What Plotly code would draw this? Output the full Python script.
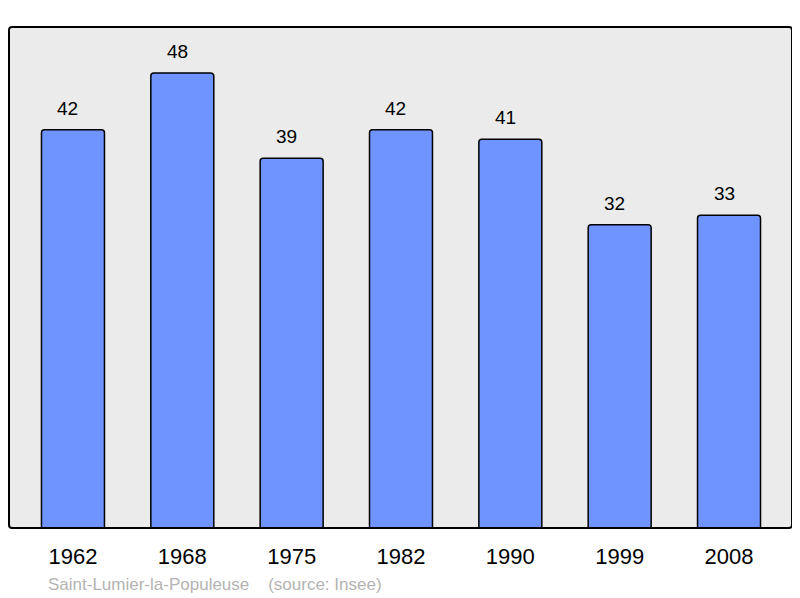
import plotly.graph_objects as go

years = ["1962", "1968", "1975", "1982", "1990", "1999", "2008"]
population = [42, 48, 39, 42, 41, 32, 33]
footer_text = "Saint-Lumier-la-Populeuse &nbsp;&nbsp; (source: Insee)"

FONT = "Liberation Sans, Arial, sans-serif"
# page body has an 8px margin: figure sits at (8, 8)
OFF = 8
W, H = 800 - OFF, 598 - OFF
ml, mr, mt, mb = 9 - OFF, 8, 27 - OFF, 70
pw, ph = W - ml - mr, H - mt - mb

idx = list(range(len(years)))

fig = go.Figure()
fig.add_trace(go.Bar(
    x=idx, y=population,
    width=0.576,
    marker=dict(color="#7094ff", line=dict(color="#000000", width=1.5), cornerradius=3),
    hoverinfo="skip",
))

annotations = [
    dict(x=i, y=v, xref="x", yref="y", text=str(v), showarrow=False,
         yanchor="bottom", yshift=9, xshift=-5, font=dict(size=19, color="#000000", family=FONT))
    for i, v in zip(idx, population)
]
annotations.append(dict(x=(46 - 9) / pw, y=-(584 - 528) / ph, xref="paper", yref="paper",
                        text=footer_text, showarrow=False, xanchor="left", yanchor="middle",
                        font=dict(size=17, color="#b3b3b3", family=FONT)))

fig.update_layout(
    width=W, height=H,
    margin=dict(l=ml, r=mr, t=mt, b=mb),
    paper_bgcolor="#ffffff",
    plot_bgcolor="#ebebeb",
    showlegend=False,
    annotations=annotations,
    font=dict(family=FONT, color="#000000"),
    xaxis=dict(type="linear", range=[-0.585, 6.576], showgrid=False, zeroline=False, showline=False,
               tickmode="array", tickvals=idx, ticktext=years,
               ticks="outside", ticklen=9, tickcolor="rgba(0,0,0,0)",
               tickfont=dict(size=22, color="#000000"), fixedrange=True),
    yaxis=dict(range=[0, 52.85], showgrid=False, zeroline=False, showline=False,
               showticklabels=False, ticks="", fixedrange=True),
    shapes=[dict(type="path", xref="paper", yref="paper",
                 path="M 0.004,0 L 0.996,0 Q 1,0 1,0.006 L 1,0.994 Q 1,1 0.996,1 L 0.004,1 Q 0,1 0,0.994 L 0,0.006 Q 0,0 0.004,0 Z",
                 line=dict(color="#000000", width=2), layer="above")],
)

fig.write_html("out.html")
